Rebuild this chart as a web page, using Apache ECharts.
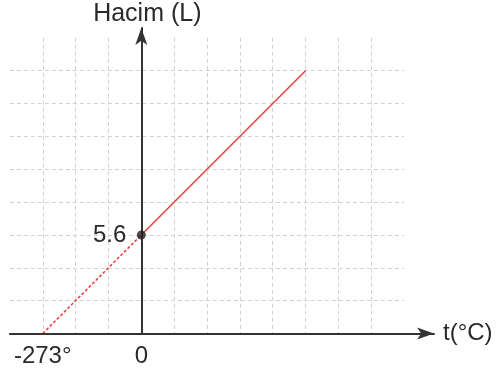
<!DOCTYPE html>
<html>
<head>
<meta charset="utf-8">
<script src="https://cdn.jsdelivr.net/npm/echarts@6/dist/echarts.min.js"></script>
<style>html,body{margin:0;padding:0;background:#fff}#c{width:498px;height:373px}</style>
</head>
<body>
<div id="c"></div>
<script>
// ---- data ----
const solidTemps = [0, 455];
const solidVolumes = [5.6, 14.93];
const dashTemps = [-273, 0];
const dashVolumes = [0, 5.6];
const pointTemps = [0];
const pointVolumes = [5.6];
const xTickValues = [-273, 0];
const xTickLabels = ['-273°', '0'];
const yTickValues = [5.6];
const yTickLabels = ['5.6'];
const xName = 't(°C)';
const yName = 'Hacim (L)';

// ---- layout ----
const W = 498, H = 373;
const cell = 32.85;            // px per grid cell
const ox = 141.3, oy = 333.5;  // origin in px
const xStep = 91;              // °C per cell
const yStep = 5.6 / 3;         // L per cell
const xTipPx = 434, yTipPx = 28;
const font = '"Liberation Sans", Arial, sans-serif';

const mainLeft = ox - 4 * cell;
const xMinMain = -4 * xStep;
const xMaxMain = xMinMain + (xTipPx - mainLeft) / cell * xStep;
const yMaxMain = (oy - yTipPx) / cell * yStep;

const gridLine = { show: true, lineStyle: { color: '#d2d2d2', width: 1, type: [4, 3] } };
const hidden = { show: false };

const solidData = solidTemps.map((t, i) => [t, solidVolumes[i]]);
const dashData = dashTemps.map((t, i) => [t, dashVolumes[i]]);
const pointData = pointTemps.map((t, i) => [t, pointVolumes[i]]);

const gb = { containLabel: false, outerBoundsMode: 'none' };

const option = {
  animation: false,
  backgroundColor: '#fff',
  grid: [
    Object.assign({ left: mainLeft, width: xTipPx - mainLeft, top: yTipPx, height: oy - yTipPx }, gb),
    Object.assign({ left: ox - 4 * cell, width: 12 * cell, top: oy - 8 * cell, height: 8 * cell }, gb),
    Object.assign({ left: ox - 3 * cell, width: 10 * cell, top: oy - 9 * cell, height: 9 * cell }, gb)
  ],
  xAxis: [
    {
      type: 'value', gridIndex: 0, min: xMinMain, max: xMaxMain, z: 5,
      splitLine: hidden, axisTick: hidden,
      axisLine: { show: true, onZero: false, symbol: ['none', 'arrow'], symbolSize: [9, 17],
        lineStyle: { color: '#333', width: 2 } },
      axisLabel: { show: true, customValues: xTickValues, margin: 11,
        formatter: v => xTickLabels[xTickValues.indexOf(v)] ?? '',
        color: '#2a2a2a', fontSize: 24, fontFamily: font },
      name: xName, nameLocation: 'end', nameGap: 9,
      nameTextStyle: { color: '#2a2a2a', fontSize: 24, fontFamily: font, verticalAlign: 'middle' }
    },
    { type: 'value', gridIndex: 1, min: -4 * xStep, max: 8 * xStep, interval: xStep,
      axisLine: hidden, axisTick: hidden, axisLabel: hidden, splitLine: hidden },
    { type: 'value', gridIndex: 2, min: -3 * xStep, max: 7 * xStep, interval: xStep,
      axisLine: hidden, axisTick: hidden, axisLabel: hidden, splitLine: gridLine }
  ],
  yAxis: [
    {
      type: 'value', gridIndex: 0, min: 0, max: yMaxMain, z: 5,
      position: 'left', offset: -(ox - mainLeft),
      splitLine: hidden, axisTick: hidden,
      axisLine: { show: true, onZero: false, symbol: ['none', 'arrow'], symbolSize: [9, 17],
        lineStyle: { color: '#333', width: 2 } },
      axisLabel: { show: true, customValues: yTickValues, margin: 15,
        formatter: v => yTickLabels[yTickValues.indexOf(v)] ?? '',
        color: '#2a2a2a', fontSize: 24, fontFamily: font },
      name: yName, nameLocation: 'end', nameGap: 14,
      nameTextStyle: { color: '#2a2a2a', fontSize: 25, fontFamily: font, align: 'center', verticalAlign: 'middle', padding: [0, 0, 0, 12] }
    },
    { type: 'value', gridIndex: 1, min: 0, max: 8 * yStep, interval: yStep,
      axisLine: hidden, axisTick: hidden, axisLabel: hidden, splitLine: gridLine },
    { type: 'value', gridIndex: 2, min: 0, max: 9 * yStep, interval: yStep,
      axisLine: hidden, axisTick: hidden, axisLabel: hidden, splitLine: hidden }
  ],
  series: [
    { type: 'line', xAxisIndex: 0, yAxisIndex: 0, data: dashData, symbol: 'none', z: 3,
      lineStyle: { color: '#f0443a', width: 1.6, type: [3, 2] } },
    { type: 'line', xAxisIndex: 0, yAxisIndex: 0, data: solidData, symbol: 'none', z: 3,
      lineStyle: { color: '#f0443a', width: 1.6 } },
    { type: 'scatter', xAxisIndex: 0, yAxisIndex: 0, data: pointData, symbolSize: 9, z: 10,
      itemStyle: { color: '#222' } }
  ]
};
const chart = echarts.init(document.getElementById('c'), null, { renderer: 'canvas', width: W, height: H });
chart.setOption(option);
</script>
</body>
</html>
